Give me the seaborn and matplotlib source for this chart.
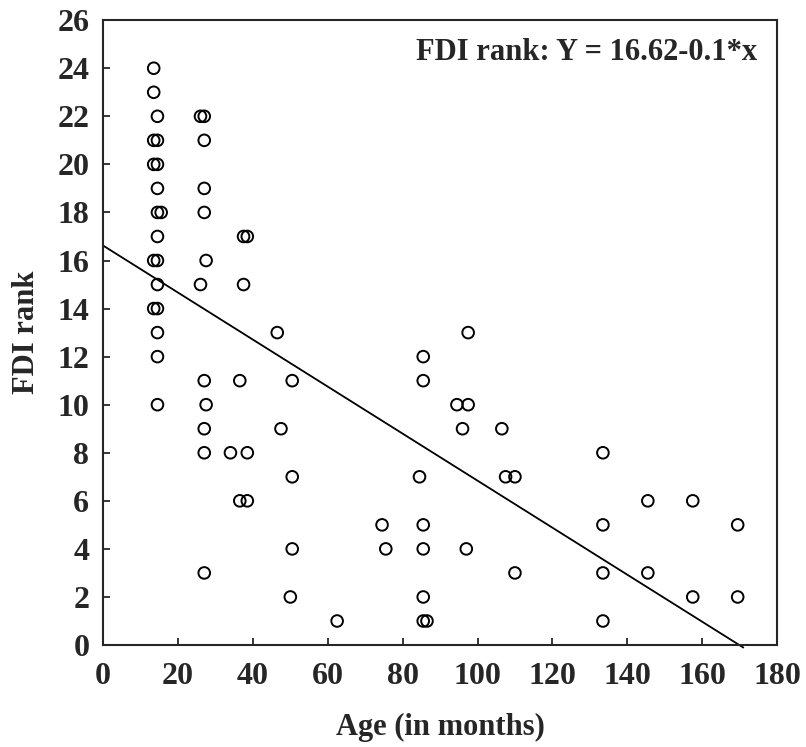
import matplotlib
matplotlib.use("Agg")
import matplotlib.pyplot as plt
import seaborn as sns
import numpy as np
import pandas as pd

age = [13.5, 13.5, 13.5, 13.5, 13.5, 13.5,
       14.5, 14.5, 14.5, 14.5, 14.5, 14.5, 14.5, 14.5, 14.5, 14.5, 14.5, 14.5,
       15.5,
       26, 26,
       27, 27, 27, 27, 27, 27, 27, 27,
       27.5, 27.5,
       37.5, 37.5, 38.5, 36.5, 36.5, 34, 38.5, 38.5,
       46.5, 47.5, 50.5, 50.5, 50.5, 50,
       62.5, 74.5, 75.5, 84.5,
       85.5, 85.5, 85.5, 85.5, 85.5, 85.5, 86.5,
       94.5, 97.5, 97.5, 96, 97,
       106.5, 107.5, 110, 110,
       133.5, 133.5, 133.5, 133.5,
       145.5, 145.5, 157.5, 157.5, 169.5, 169.5]
rank = [24, 23, 21, 20, 16, 14,
        22, 21, 20, 19, 18, 17, 16, 15, 14, 13, 12, 10,
        18,
        22, 15,
        22, 21, 19, 18, 11, 9, 8, 3,
        16, 10,
        17, 15, 17, 11, 6, 8, 8, 6,
        13, 9, 11, 7, 4, 2,
        1, 5, 4, 7,
        12, 11, 5, 4, 2, 1, 1,
        10, 10, 13, 9, 4,
        9, 7, 7, 3,
        8, 5, 3, 1,
        6, 3, 6, 2, 5, 2]

intercept = 16.62
slope = -0.0978
fit_x = [0, 171]
equation = "FDI rank: Y = 16.62-0.1*x"

df = pd.DataFrame({"age": age, "rank": rank})

sns.set_style("ticks")
plt.rcParams['font.family'] = ['Liberation Serif', 'DejaVu Serif']
plt.rcParams['font.weight'] = 'bold'

fig = plt.figure(figsize=(8.06, 7.47), dpi=100)
ax = fig.add_axes([0.128, 0.1365, 0.836, 0.8365])

sns.scatterplot(data=df, x="age", y="rank", ax=ax, s=70, marker="o",
                facecolor="none", edgecolor="black", linewidth=1.4, zorder=3)

fx = np.array(fit_x, dtype=float)
ax.plot(fx, intercept + slope * fx, color="black", lw=1.3, clip_on=False, zorder=2)

ax.set_xlim(0, 180)
ax.set_ylim(0, 26)
ax.set_xticks(range(0, 181, 20))
ax.set_yticks(range(0, 27, 2))
ax.tick_params(direction="in", length=5, width=1.3, labelsize=23)
ax.tick_params(axis="y", pad=10)
ax.tick_params(axis="x", pad=12)
for lab in ax.get_xticklabels() + ax.get_yticklabels():
    lab.set_fontweight("bold")
for sp in ax.spines.values():
    sp.set_linewidth(1.5)
    sp.set_visible(True)

ax.set_xlabel("Age (in months)", fontsize=22, fontweight="bold", labelpad=16)
ax.set_ylabel("FDI rank", fontsize=22, fontweight="bold", labelpad=12)
ax.text(0.97, 0.948, equation, transform=ax.transAxes, ha="right", va="center",
        fontsize=22, fontweight="bold")

fig.savefig("out.png", dpi=100)
